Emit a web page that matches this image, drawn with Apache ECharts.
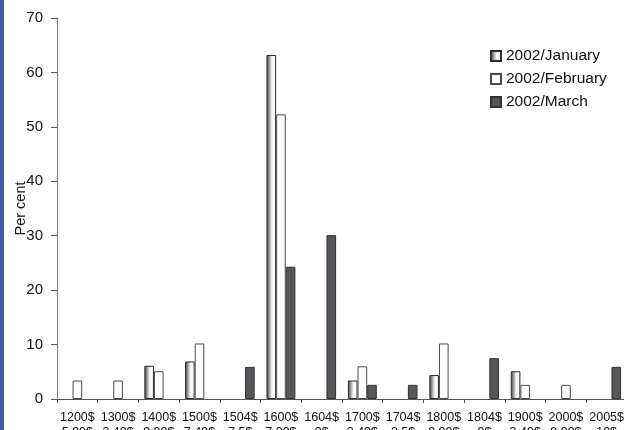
<!DOCTYPE html>
<html>
<head>
<meta charset="utf-8">
<script src="https://cdn.jsdelivr.net/npm/echarts@6/dist/echarts.min.js"></script>
<style>
  html, body { margin: 0; padding: 0; background: #fff; }
  #chart { width: 624px; height: 430px; }
</style>
</head>
<body>
<div id="chart"></div>
<script>
// Price bands (two-line category labels)
const priceFrom = ['1200$', '1300$', '1400$', '1500$', '1504$', '1600$', '1604$',
                   '1700$', '1704$', '1800$', '1804$', '1900$', '2000$', '2005$'];
const priceTo = ['5.99$', '3.49$', '9.99$', '7.49$', '7.5$', '7.99$', '9$',
                 '3.49$', '3.5$', '9.99$', '9$', '3.49$', '9.99$', '10$'];

// Share of observations, per cent
const january  = [null, null, 6.1, 6.9, null, 63.2, null, 3.4, null, 4.4, null, 5.1, null, null];
const february = [3.4, 3.4, 5.1, 10.2, null, 52.3, null, 6.0, null, 10.2, null, 2.6, 2.6, null];
const march    = [null, null, null, null, 5.9, 24.3, 30.1, 2.6, 2.6, null, 7.5, null, null, 5.9];

const yTicks = { min: 0, max: 70, interval: 10 };

const categories = priceFrom.map((p, i) => p + '\n' + priceTo[i]);
const FONT = 'Liberation Sans, Arial, sans-serif';

const chart = echarts.init(document.getElementById('chart'), null, { renderer: 'canvas' });

chart.setOption({
  animation: false,
  backgroundColor: '#ffffff',
  textStyle: { fontFamily: FONT },
  grid: {
    left: 57, right: -3, top: 18, bottom: 31,
    containLabel: false,
    outerBoundsMode: 'none'
  },
  legend: {
    orient: 'vertical',
    left: 490,
    top: 48,
    padding: 0,
    itemWidth: 10,
    itemHeight: 10,
    itemGap: 7,
    icon: 'rect',
    textStyle: { fontFamily: FONT, fontSize: 15.5, color: '#111' },
    data: ['2002/January', '2002/February', '2002/March']
  },
  xAxis: {
    type: 'category',
    data: categories,
    axisLine: { lineStyle: { color: '#555', width: 1 } },
    axisTick: { show: true, length: 4, inside: false, lineStyle: { color: '#555' } },
    axisLabel: {
      interval: 0,
      margin: 11,
      hideOverlap: false,
      fontFamily: FONT,
      fontSize: 12.5,
      lineHeight: 15,
      color: '#111'
    },
    splitLine: { show: false }
  },
  yAxis: {
    type: 'value',
    min: yTicks.min,
    max: yTicks.max,
    interval: yTicks.interval,
    name: 'Per cent',
    nameLocation: 'middle',
    nameGap: 29,
    nameMoveOverlap: false,
    nameTextStyle: { fontFamily: FONT, fontSize: 14.5, color: '#111' },
    axisLine: { show: true, lineStyle: { color: '#777', width: 1 } },
    axisTick: { show: true, length: 6, lineStyle: { color: '#555' } },
    axisLabel: { margin: 14, fontFamily: FONT, fontSize: 15, color: '#111' },
    splitLine: { show: false }
  },
  graphic: [
    { type: 'rect', left: 0, top: 0, shape: { width: 4, height: 430 },
      style: { fill: '#4b5a9c' }, z: 100 }
  ],
  series: [
    {
      name: '2002/January',
      type: 'bar',
      data: january,
      barGap: '0%',
      barCategoryGap: '29%',
      itemStyle: {
        color: new echarts.graphic.LinearGradient(0, 0, 1, 0, [
          { offset: 0, color: '#3a3a3a' },
          { offset: 0.55, color: '#f4f4f4' },
          { offset: 0.8, color: '#ffffff' },
          { offset: 1, color: '#d8d8d8' }
        ]),
        borderColor: '#2e2e2e',
        borderWidth: 1
      }
    },
    {
      name: '2002/February',
      type: 'bar',
      data: february,
      barGap: '0%',
      barCategoryGap: '29%',
      itemStyle: { color: '#ffffff', borderColor: '#4a4a4a', borderWidth: 1 }
    },
    {
      name: '2002/March',
      type: 'bar',
      data: march,
      barGap: '0%',
      barCategoryGap: '29%',
      itemStyle: { color: '#57575b', borderColor: '#333', borderWidth: 1 }
    }
  ]
});
</script>
</body>
</html>
